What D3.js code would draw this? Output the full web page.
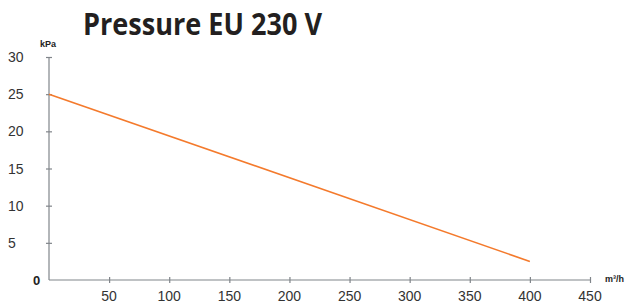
<!DOCTYPE html>
<html>
<head>
<meta charset="utf-8">
<script src="https://cdn.jsdelivr.net/npm/d3@7"></script>
<style>
  body { margin: 0; background: #fff; }
  svg { display: block; }
</style>
</head>
<body>
<div id="chart"></div>
<script>
// chart data
const flow = [0, 400];          // m³/h
const pressure = [25, 2.5];     // kPa
const xTicks = [50, 100, 150, 200, 250, 300, 350, 400, 450];
const yTicks = [5, 10, 15, 20, 25, 30];

const width = 626, height = 304;
const margin = {top: 57, right: 36, bottom: 24, left: 49};

const x = d3.scaleLinear().domain([0, 450]).range([margin.left, width - margin.right]);
const y = d3.scaleLinear().domain([0, 30]).range([height - margin.bottom, margin.top]);

const svg = d3.select("#chart").append("svg")
    .attr("width", width)
    .attr("height", height);

// title
svg.append("text")
    .attr("x", 83).attr("y", 35)
    .attr("font-family", "Open Sans, sans-serif")
    .attr("font-weight", "bold")
    .attr("font-size", 31)
    .attr("fill", "#231f20")
    .attr("textLength", 239)
    .attr("lengthAdjust", "spacingAndGlyphs")
    .text("Pressure EU 230 V");

const axisColor = "#80858a";

// y axis
const yAxis = svg.append("g")
    .attr("transform", "translate(" + x(0) + ",0)")
    .call(d3.axisLeft(y).tickValues(yTicks).tickSize(3).tickFormat(""));
yAxis.select(".domain").attr("d", "M0," + y(0) + "V" + y(30));
yAxis.selectAll(".tick line").attr("x1", -3).attr("x2", 3);
yAxis.selectAll("line, path").attr("stroke", axisColor).attr("stroke-width", 1.2);

// x axis
const xAxis = svg.append("g")
    .attr("transform", "translate(0," + y(0) + ")")
    .call(d3.axisBottom(x).tickValues(xTicks).tickSize(3).tickFormat(""));
xAxis.select(".domain").attr("d", "M" + x(0) + ",0H" + x(450));
xAxis.selectAll(".tick line").attr("y1", -3).attr("y2", 3);
xAxis.selectAll("line, path").attr("stroke", axisColor).attr("stroke-width", 1.2);

// tick labels
svg.append("g").selectAll("text")
    .data(yTicks)
    .join("text")
    .attr("x", 8)
    .attr("y", d => y(d) + 5)
    .attr("font-family", "Liberation Sans, Arial, sans-serif")
    .attr("font-size", 14)
    .attr("fill", "#333")
    .text(d => d);

svg.append("text")
    .attr("x", 33).attr("y", y(0) + 5)
    .attr("font-family", "Liberation Sans, Arial, sans-serif")
    .attr("font-weight", "bold")
    .attr("font-size", 13)
    .attr("fill", "#222")
    .text("0");

svg.append("g").selectAll("text")
    .data(xTicks)
    .join("text")
    .attr("x", d => x(d))
    .attr("y", y(0) + 21)
    .attr("text-anchor", "middle")
    .attr("font-family", "Liberation Sans, Arial, sans-serif")
    .attr("font-size", 14)
    .attr("fill", "#333")
    .text(d => d);

// units
svg.append("text")
    .attr("x", 40).attr("y", 47)
    .attr("font-family", "Liberation Sans, Arial, sans-serif")
    .attr("font-weight", "bold")
    .attr("font-size", 9)
    .attr("fill", "#222")
    .text("kPa");

svg.append("text")
    .attr("x", 605).attr("y", y(0) + 2)
    .attr("font-family", "Liberation Sans, Arial, sans-serif")
    .attr("font-weight", "bold")
    .attr("font-size", 9)
    .attr("fill", "#222")
    .text("m³/h");

// pressure curve
const line = d3.line()
    .x((d, i) => x(flow[i]))
    .y(d => y(d));

svg.append("path")
    .datum(pressure)
    .attr("fill", "none")
    .attr("stroke", "#f47a2c")
    .attr("stroke-width", 1.6)
    .attr("d", line);
</script>
</body>
</html>
